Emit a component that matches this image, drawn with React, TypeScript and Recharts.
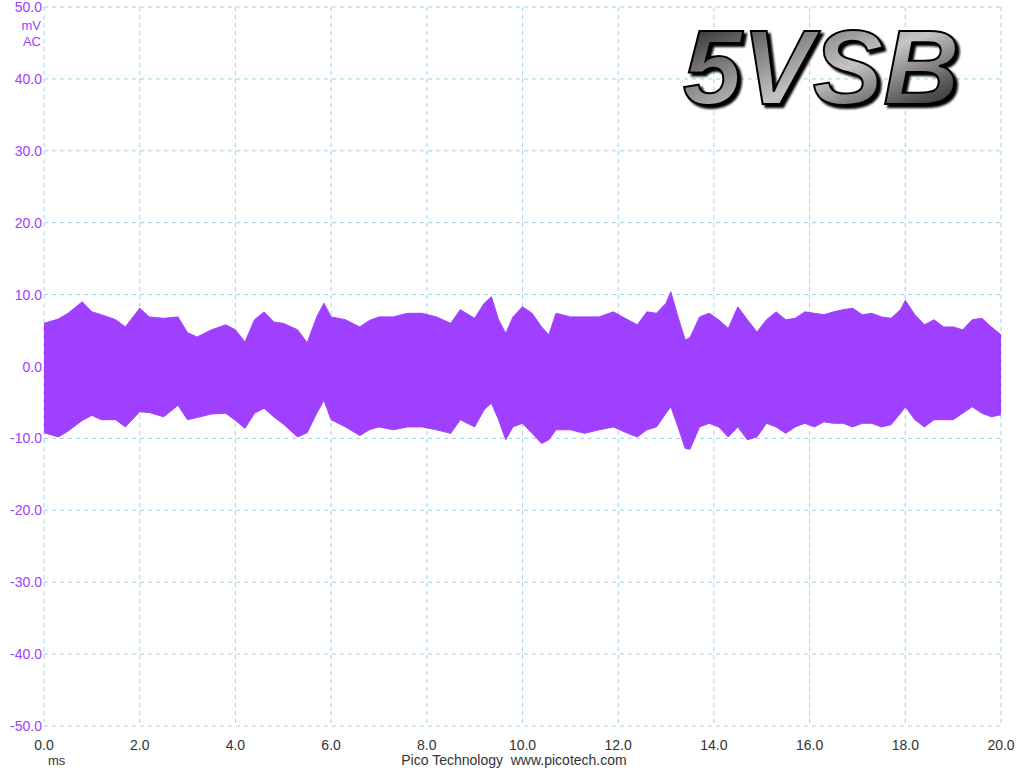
import { Area, CartesianGrid, ComposedChart, XAxis, YAxis } from "recharts";

const TIMES = [
  0.0, 0.3, 0.5, 0.8, 1.0, 1.2, 1.5, 1.7, 2.0, 2.2, 2.5, 2.8, 3.0, 3.2, 3.5, 3.8,
  4.0, 4.2, 4.4, 4.6, 4.8, 5.0, 5.3, 5.5, 5.7, 5.85, 6.0, 6.3, 6.6, 6.8, 7.0, 7.3,
  7.6, 7.9, 8.2, 8.5, 8.7, 9.0, 9.2, 9.35, 9.5, 9.65, 9.8, 10.0, 10.2, 10.4, 10.55,
  10.7, 11.0, 11.3, 11.6, 11.9, 12.2, 12.4, 12.6, 12.8, 13.0, 13.1, 13.25, 13.4,
  13.5, 13.7, 13.9, 14.1, 14.3, 14.5, 14.7, 14.9, 15.1, 15.3, 15.5, 15.7, 15.9,
  16.1, 16.3, 16.5, 16.7, 16.9, 17.1, 17.3, 17.5, 17.7, 17.9, 18.0, 18.2, 18.4,
  18.6, 18.8, 19.0, 19.2, 19.4, 19.6, 19.8, 20.0,
];

const UPPER = [
  6.0, 6.6, 7.4, 9.0, 7.6, 7.2, 6.5, 5.5, 8.1, 6.9, 6.7, 6.9, 4.7, 4.1, 5.1, 5.8,
  5.1, 3.4, 6.5, 7.6, 6.2, 6.0, 5.1, 3.3, 6.9, 8.8, 6.9, 6.5, 5.5, 6.4, 6.9, 6.9,
  7.4, 7.4, 6.9, 6.0, 7.9, 6.7, 8.8, 9.7, 6.5, 4.6, 6.9, 8.3, 7.4, 5.5, 4.4,
  7.4, 6.9, 6.9, 6.9, 7.6, 6.5, 5.8, 7.6, 7.4, 8.8, 10.4, 6.9, 3.7,
  4.0, 6.9, 7.4, 6.5, 5.3, 8.3, 6.5, 4.8, 6.5, 7.6, 6.5, 6.7, 7.6,
  7.4, 7.2, 7.6, 7.9, 8.1, 7.2, 7.4, 6.9, 6.7, 7.9, 9.2, 7.2, 5.8,
  6.5, 5.5, 5.5, 5.1, 6.5, 6.7, 5.5, 4.4,
];

const LOWER = [
  -9.2, -9.8, -9.0, -7.5, -6.8, -7.4, -7.4, -8.4, -6.3, -6.4, -7.0, -5.4, -7.4, -7.1, -6.6, -6.5,
  -7.5, -8.6, -6.5, -5.8, -7.0, -8.0, -9.8, -9.2, -6.5, -4.7, -7.4, -8.4, -9.6, -8.8, -8.4, -8.8,
  -8.4, -8.4, -8.8, -9.3, -7.4, -8.4, -6.0, -5.1, -7.4, -10.2, -8.4, -7.9, -9.3, -10.7, -10.2,
  -8.8, -8.8, -9.3, -8.8, -8.4, -9.3, -9.8, -8.8, -8.4, -6.5, -5.6, -8.4, -11.4,
  -11.5, -8.4, -7.9, -8.4, -9.8, -8.4, -10.2, -9.8, -7.9, -8.4, -9.3, -8.4, -7.9,
  -8.4, -7.7, -7.9, -7.9, -8.4, -7.9, -7.9, -8.4, -8.1, -6.5, -5.6, -7.4, -8.4,
  -7.4, -7.4, -7.4, -6.5, -5.6, -6.5, -7.0, -6.7,
];

const X_TICKS = [0, 2, 4, 6, 8, 10, 12, 14, 16, 18, 20];
const Y_TICKS = [-50, -40, -30, -20, -10, 0, 10, 20, 30, 40, 50];

const PURPLE = "#a040ff";
const FONT = "'Liberation Sans', Arial, sans-serif";

const rows = TIMES.map((t, i) => ({ t, band: [LOWER[i], UPPER[i]] }));

function XTick(props: any) {
  const { x, payload } = props;
  return (
    <text x={x} y={750} textAnchor="middle" fontSize={14} fontFamily={FONT} fill="#333">
      {payload.value.toFixed(1)}
    </text>
  );
}

function YTick(props: any) {
  const { y, payload } = props;
  return (
    <text x={42} y={y + 5} textAnchor="end" fontSize={14} fontFamily={FONT} fill={PURPLE}>
      {payload.value.toFixed(1)}
    </text>
  );
}

export default function App() {
  return (
    <div style={{ position: "relative", width: 1024, height: 768, background: "#fff" }}>
      <style>{`body{margin:0}`}</style>
      <ComposedChart
        width={1024}
        height={768}
        data={rows}
        margin={{ top: 7, right: 23, bottom: 0, left: 0 }}
      >
        <CartesianGrid stroke="#9fcfe6" strokeDasharray="4 4" />
        <XAxis
          type="number"
          dataKey="t"
          domain={[0, 20]}
          ticks={X_TICKS}
          interval={0}
          height={42}
          axisLine={false}
          tickLine={false}
          tick={<XTick />}
        />
        <YAxis
          type="number"
          domain={[-50, 50]}
          ticks={Y_TICKS}
          interval={0}
          width={44}
          axisLine={false}
          tickLine={false}
          tick={<YTick />}
        />
        <Area
          dataKey="band"
          type="linear"
          stroke={PURPLE}
          strokeWidth={1}
          fill={PURPLE}
          fillOpacity={1}
          isAnimationActive={false}
        />
      </ComposedChart>
      <svg
        width={1024}
        height={768}
        style={{ position: "absolute", left: 0, top: 0, pointerEvents: "none" }}
      >
        <defs>
          <linearGradient id="metal" x1="0" y1="0" x2="1" y2="1">
            <stop offset="0%" stopColor="#111" />
            <stop offset="35%" stopColor="#8a8a8a" />
            <stop offset="55%" stopColor="#c4c4c4" />
            <stop offset="80%" stopColor="#555" />
            <stop offset="100%" stopColor="#111" />
          </linearGradient>
          <filter id="shade" x="-10%" y="-10%" width="120%" height="130%">
            <feDropShadow dx="3" dy="3" stdDeviation="1" floodColor="#000" floodOpacity="1" />
          </filter>
        </defs>
        <text x={41} y={30} textAnchor="end" fontSize={13} fontFamily={FONT} fill={PURPLE}>
          mV
        </text>
        <text x={41} y={46} textAnchor="end" fontSize={13} fontFamily={FONT} fill={PURPLE}>
          AC
        </text>
        <text x={48} y={765} fontSize={13} fontFamily={FONT} fill="#333">
          ms
        </text>
        <text x={514} y={765} textAnchor="middle" fontSize={14} fontFamily={FONT} fill="#333">
          {"Pico Technology\u00a0\u00a0www.picotech.com"}
        </text>
        <text
          x={683}
          y={104}
          fontSize={106}
          fontWeight="bold"
          fontStyle="italic"
          fontFamily={FONT}
          fill="url(#metal)"
          stroke="#000"
          strokeWidth={2}
          filter="url(#shade)"
        >
          5VSB
        </text>
      </svg>
    </div>
  );
}
